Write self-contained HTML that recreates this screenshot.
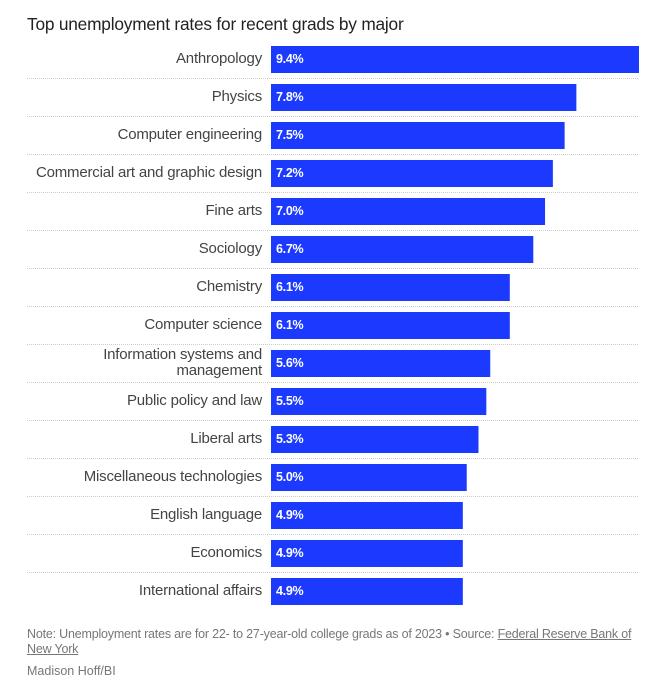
<!DOCTYPE html>
<html><head><meta charset="utf-8"><style>
body{margin:0;width:650px;height:683px;background:#fff;font-family:"Liberation Sans",sans-serif;position:relative;overflow:hidden}
.title{position:absolute;left:27px;top:14px;font-size:17.3px;color:#222;letter-spacing:-0.2px}
.note{position:absolute;left:27px;top:627px;width:605px;font-size:12.5px;line-height:15px;color:#777;letter-spacing:-0.2px}
.note a{color:#777;text-decoration:underline}
.credit{position:absolute;left:27px;top:664px;font-size:12.5px;color:#777}
</style></head><body>
<div class="title">Top unemployment rates for recent grads by major</div>
<svg id="chart" width="650" height="620" style="position:absolute;left:0;top:0"></svg>
<div class="note">Note: Unemployment rates are for 22- to 27-year-old college grads as of 2023 • Source: <a>Federal Reserve Bank of New York</a></div>
<div class="credit">Madison Hoff/BI</div>
<script>
const categories=[["Anthropology"],["Physics"],["Computer engineering"],["Commercial art and graphic design"],["Fine arts"],["Sociology"],["Chemistry"],["Computer science"],["Information systems and","management"],["Public policy and law"],["Liberal arts"],["Miscellaneous technologies"],["English language"],["Economics"],["International affairs"]];
const values=[9.4,7.8,7.5,7.2,7.0,6.7,6.1,6.1,5.6,5.5,5.3,5.0,4.9,4.9,4.9];
const svg=document.getElementById('chart');const NS='http://www.w3.org/2000/svg';
const x0=271,xMax=9.4,xW=368,y0=46,pitch=38,bh=27;
const xs=v=>v/xMax*xW;const ys=i=>y0+i*pitch;
function mk(t,a){const e=document.createElementNS(NS,t);for(const k in a)e.setAttribute(k,a[k]);svg.appendChild(e);return e;}
values.forEach((v,i)=>{
 const y=ys(i);
 if(i<values.length-1){const l=mk('line',{x1:27,x2:639,y1:y+bh+5.5,y2:y+bh+5.5,stroke:'#ccc','stroke-dasharray':'1,1'});
 
 }
 const r=mk('rect',{x:x0,y:y,width:xs(v),height:bh,fill:'#1c3afe'});
 
 
 const t=mk('text',{x:x0+5,y:y+bh/2+3.5,fill:'#fff','font-size':'12.5','font-weight':'bold','letter-spacing':'-0.3'});t.textContent=v.toFixed(1)+'%';
 
 
 const lines=categories[i];
 lines.forEach((s,j)=>{const c=mk('text',{x:262,y:y+bh/2+3.5+(j-(lines.length-1)/2)*16,'text-anchor':'end',fill:'#444','font-size':'15','letter-spacing':'-0.2'});c.textContent=s;
 
 });
});
</script>
</body></html>
